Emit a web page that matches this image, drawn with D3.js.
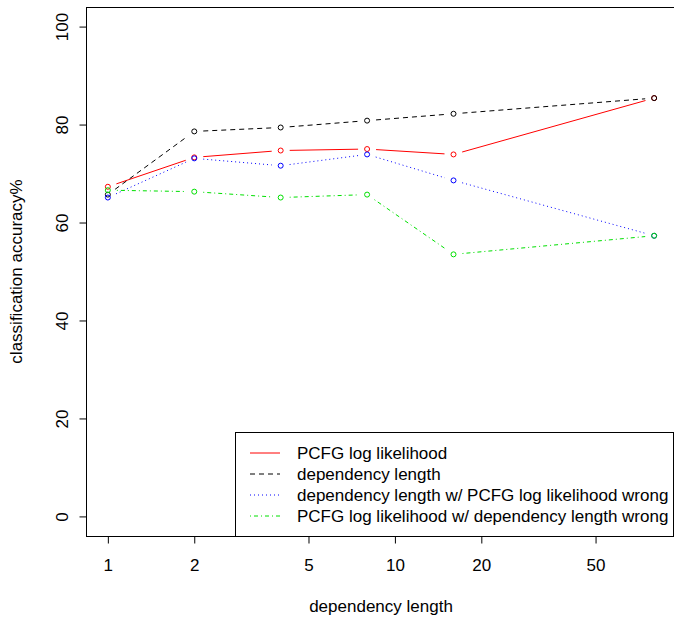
<!DOCTYPE html>
<html><head><meta charset="utf-8">
<script src="https://cdn.jsdelivr.net/npm/d3@7"></script>
<style>body{margin:0;background:#fff}svg{display:block}text{font-family:"Liberation Sans",Arial,sans-serif}</style>
</head><body>
<svg id="c" width="674" height="624"></svg>
<script>
const lengths = [1, 2, 4, 8, 16, 80];
const pcfg = [67.3, 73.3, 74.7, 75.0, 73.9, 85.4];
const depLen = [65.7, 78.6, 79.4, 80.8, 82.2, 85.4];
const depLenPcfgWrong = [65.1, 73.1, 71.6, 73.9, 68.6, 57.3];
const pcfgDepWrong = [66.6, 66.3, 65.1, 65.7, 53.5, 57.3];
const xTicks = [1, 2, 5, 10, 20, 50];
const yTicks = [0, 20, 40, 60, 80, 100];
const seriesNames = ["PCFG log likelihood", "dependency length",
  "dependency length w/ PCFG log likelihood wrong", "PCFG log likelihood w/ dependency length wrong"];

const series = [
  {name: seriesNames[0], vals: pcfg, color: "#FF0000", dash: null},
  {name: seriesNames[1], vals: depLen, color: "#000000", dash: "5,4"},
  {name: seriesNames[2], vals: depLenPcfgWrong, color: "#0000FF", dash: "1,3"},
  {name: seriesNames[3], vals: pcfgDepWrong, color: "#00E000", dash: "1,3,4,3"}
];

const FS = 17;
const svg = d3.select("#c");
const L = 86, R = 676, T = 7, B = 536;
const lx0 = Math.log10(1), lx1 = Math.log10(80), ex = (lx1 - lx0) * 0.04;
const x = d3.scaleLog().domain([Math.pow(10, lx0 - ex), Math.pow(10, lx1 + ex)]).range([L, R]);
const y = d3.scaleLinear().domain([-4, 104]).range([B, T]);

// box
svg.append("rect").attr("x", L + 0.5).attr("y", T + 0.5).attr("width", R - L).attr("height", B - T)
  .attr("fill", "none").attr("stroke", "#000").attr("stroke-width", 1);

// x axis
const xa = svg.append("g").attr("transform", `translate(0,${B + 0.5})`)
  .call(d3.axisBottom(x).tickValues(xTicks).tickFormat(d3.format("d")).tickSize(7).tickPadding(15));
xa.select(".domain").remove();
xa.selectAll("text").attr("font-size", FS).attr("fill", "#000").attr("font-family", "Liberation Sans, Arial, sans-serif");
xa.selectAll(".tick line").attr("stroke", "#000");

// y axis
const ya = svg.append("g").attr("transform", `translate(${L + 0.5},0)`)
  .call(d3.axisLeft(y).tickValues(yTicks).tickSize(7).tickFormat(d3.format("d")));
ya.select(".domain").remove();
ya.selectAll(".tick line").attr("stroke", "#000");
ya.selectAll("text").attr("font-size", FS).attr("fill", "#000").attr("font-family", "Liberation Sans, Arial, sans-serif")
  .attr("transform", "rotate(-90)").attr("x", 0).attr("y", -24).attr("dy", "0.35em").attr("text-anchor", "middle");

// titles
svg.append("text").attr("x", (L + R) / 2).attr("y", 612).attr("text-anchor", "middle")
  .attr("font-size", FS).text("dependency length");
svg.append("text").attr("transform", `translate(22,${(T + B) / 2}) rotate(-90)`).attr("text-anchor", "middle")
  .attr("font-size", FS).text("classification accuracy%");

// lines with gaps (type = "b")
const gap = 9;
series.forEach(s => {
  const pts = lengths.map((l, i) => [x(l), y(s.vals[i])]);
  const g = svg.append("g");
  for (let i = 0; i < pts.length - 1; i++) {
    const [x0, y0] = pts[i], [x1, y1] = pts[i + 1];
    const dx = x1 - x0, dy = y1 - y0, d = Math.hypot(dx, dy);
    if (d <= 2 * gap) continue;
    const ux = dx / d, uy = dy / d;
    g.append("line").attr("x1", x0 + ux * gap).attr("y1", y0 + uy * gap)
      .attr("x2", x1 - ux * gap).attr("y2", y1 - uy * gap)
      .attr("stroke", s.color).attr("stroke-width", 1).attr("stroke-dasharray", s.dash);
  }
  g.selectAll("circle").data(pts).join("circle").attr("cx", d => d[0]).attr("cy", d => d[1]).attr("r", 2.5)
    .attr("fill", "none").attr("stroke", s.color).attr("stroke-width", 1);
});

// legend
const lg = svg.append("g");
lg.append("rect").attr("x", 235.5).attr("y", 432.5).attr("width", 438).attr("height", B - 432)
  .attr("fill", "#fff").attr("stroke", "#000");
series.forEach((s, i) => {
  const cy = 453 + i * 21;
  lg.append("line").attr("x1", 250).attr("x2", 280).attr("y1", cy).attr("y2", cy)
    .attr("stroke", s.color).attr("stroke-dasharray", s.dash);
  lg.append("text").attr("x", 297).attr("y", cy).attr("dy", "0.35em").attr("font-size", FS).text(s.name);
});
</script>
</body></html>
